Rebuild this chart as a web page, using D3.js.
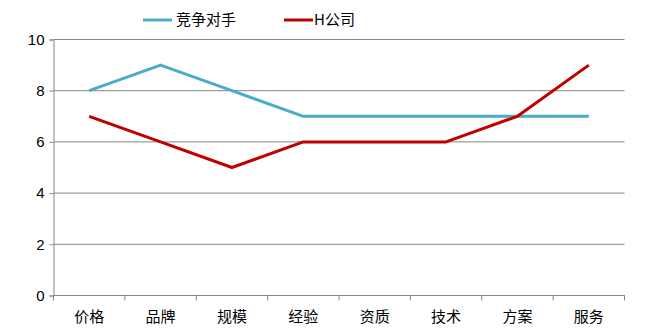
<!DOCTYPE html>
<html>
<head>
<meta charset="utf-8">
<script src="https://cdn.jsdelivr.net/npm/d3@7"></script>
<style>
  html, body { margin: 0; padding: 0; background: #fff; }
  svg { display: block; }
</style>
</head>
<body>
<svg id="chart" width="660" height="334"></svg>
<script>
// Categories and scores for each party
const categories = ["价格", "品牌", "规模", "经验", "资质", "技术", "方案", "服务"];
const competitor = [8, 9, 8, 7, 7, 7, 7, 7];
const hCompany = [7, 6, 5, 6, 6, 6, 7, 9];
const yTicks = [0, 2, 4, 6, 8, 10];
const seriesNames = ["竞争对手", "H公司"];
const seriesColors = ["#4BACC6", "#C00000"];

const svg = d3.select("#chart");
const margin = { left: 53.5, right: 624.5, top: 39.5, bottom: 295.5 };

const x = d3.scaleBand().domain(categories).range([margin.left, margin.right]);
const y = d3.scaleLinear().domain([0, 10]).range([margin.bottom, margin.top]);

const gridColor = "#868686";
const cjk = "'Noto Sans CJK SC', 'Noto Sans', sans-serif";
const latin = "'Liberation Sans', 'DejaVu Sans', sans-serif";

// Horizontal gridlines
svg.append("g").selectAll("line").data(yTicks).join("line")
  .attr("x1", margin.left).attr("x2", margin.right)
  .attr("y1", d => y(d)).attr("y2", d => y(d))
  .attr("stroke", gridColor).attr("stroke-width", 1);

// Y axis
const yAxis = svg.append("g")
  .attr("transform", `translate(${margin.left},0)`)
  .call(d3.axisLeft(y).tickValues(yTicks).tickSize(4).tickPadding(5).tickFormat(d3.format("d")));
yAxis.select(".domain").attr("stroke", gridColor);
yAxis.selectAll(".tick line").attr("stroke", gridColor);
yAxis.selectAll("text").attr("font-family", latin).attr("font-size", 15).attr("fill", "#000");

// X axis with tick marks at category boundaries
const xAxis = svg.append("g")
  .attr("transform", `translate(0,${margin.bottom})`);
xAxis.append("line")
  .attr("x1", margin.left).attr("x2", margin.right)
  .attr("stroke", gridColor);
const bounds = categories.map(c => x(c)).concat([x(categories[categories.length - 1]) + x.bandwidth()]);
xAxis.selectAll("line.b").data(bounds).join("line").attr("class", "b")
  .attr("x1", d => d).attr("x2", d => d).attr("y1", 0).attr("y2", 5)
  .attr("stroke", gridColor);
xAxis.selectAll("text").data(categories).join("text")
  .attr("x", d => x(d) + x.bandwidth() / 2)
  .attr("y", 26)
  .attr("text-anchor", "middle")
  .attr("font-family", cjk).attr("font-size", 15).attr("fill", "#000")
  .text(d => d);

// Series lines
const line = d3.line()
  .x((d, i) => x(categories[i]) + x.bandwidth() / 2)
  .y(d => y(d));
[competitor, hCompany].forEach((s, i) => {
  svg.append("path").datum(s)
    .attr("d", line)
    .attr("fill", "none")
    .attr("stroke", seriesColors[i])
    .attr("stroke-width", 3)
    .attr("stroke-linejoin", "round");
});

// Legend
const legendItems = [{ x: 143, tx: 176 }, { x: 284, tx: 314 }];
legendItems.forEach((p, i) => {
  svg.append("line")
    .attr("x1", p.x).attr("x2", p.x + 29).attr("y1", 20).attr("y2", 20)
    .attr("stroke", seriesColors[i]).attr("stroke-width", 3);
  svg.append("text")
    .attr("x", p.tx).attr("y", 25)
    .attr("font-family", cjk).attr("font-size", 15).attr("fill", "#000")
    .text(seriesNames[i]);
});
</script>
</body>
</html>
